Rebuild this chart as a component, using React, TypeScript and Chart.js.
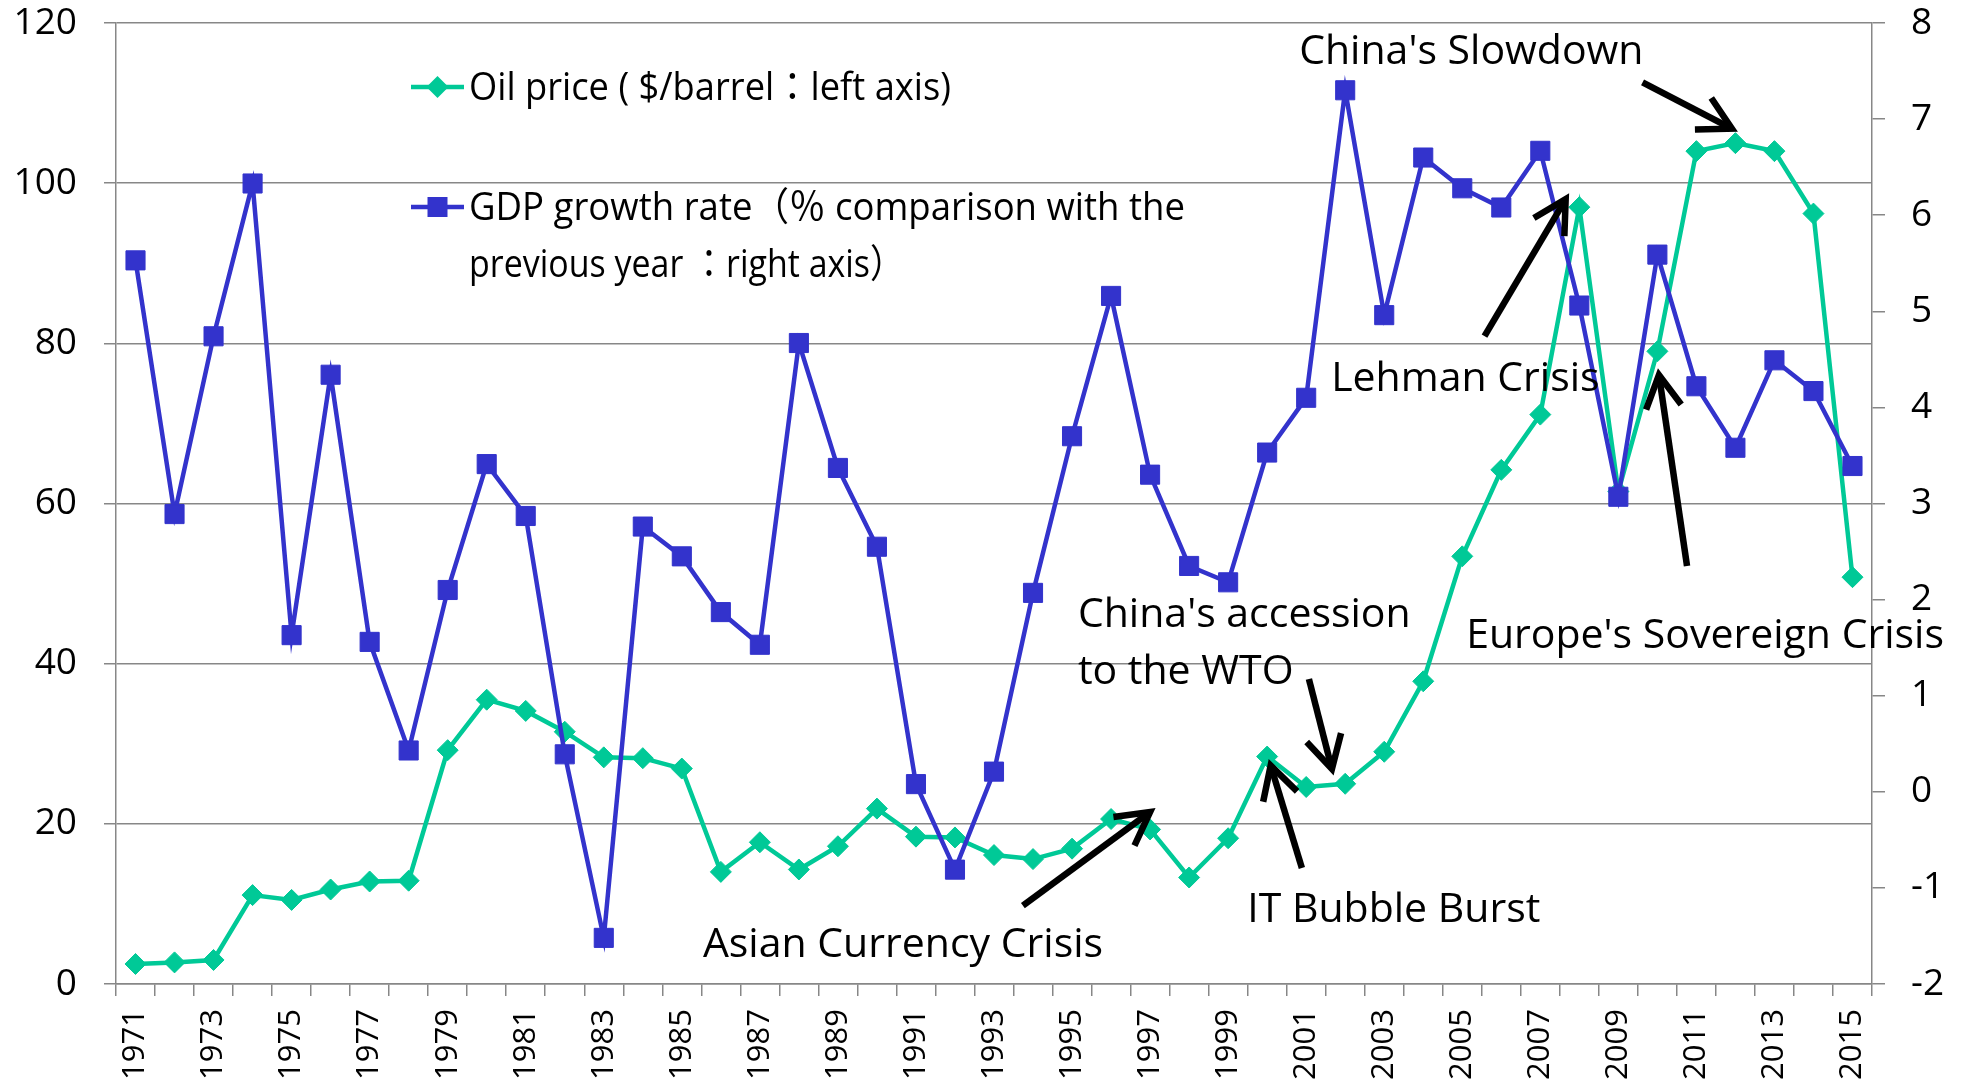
import React, { useEffect, useRef } from "react";
import { Chart, registerables } from "chart.js";

Chart.register(...registerables);

const years = [
  "1971", "1972", "1973", "1974", "1975", "1976", "1977", "1978", "1979", "1980",
  "1981", "1982", "1983", "1984", "1985", "1986", "1987", "1988", "1989", "1990",
  "1991", "1992", "1993", "1994", "1995", "1996", "1997", "1998", "1999", "2000",
  "2001", "2002", "2003", "2004", "2005", "2006", "2007", "2008", "2009", "2010",
  "2011", "2012", "2013", "2014", "2015",
];

const oilPrice = [
  2.5, 2.7, 3.0, 11.1, 10.5, 11.8, 12.8, 12.9, 29.2, 35.5,
  34.1, 31.5, 28.3, 28.2, 26.9, 14.0, 17.7, 14.3, 17.2, 21.9,
  18.4, 18.3, 16.1, 15.6, 16.9, 20.6, 19.3, 13.3, 18.2, 28.4,
  24.6, 25.0, 29.0, 37.8, 53.4, 64.2, 71.1, 97.0, 61.5, 79.0,
  104.0, 105.0, 104.0, 96.2, 50.8,
];

const gdpGrowth = [
  5.53, 2.89, 4.74, 6.33, 1.63, 4.34, 1.56, 0.43, 2.10, 3.41,
  2.87, 0.39, -1.52, 2.76, 2.45, 1.87, 1.53, 4.67, 3.37, 2.55,
  0.08, -0.81, 0.21, 2.07, 3.70, 5.16, 3.30, 2.35, 2.18, 3.53,
  4.10, 7.30, 4.96, 6.60, 6.28, 6.08, 6.67, 5.06, 3.07, 5.59,
  4.22, 3.58, 4.49, 4.17, 3.39,
];

const leftTickStep = 20;
const rightTickStep = 1;

const legendLabels = [
  ["Oil price ( $/barrel：left axis)"],
  ["GDP growth rate（％ comparison with the", "previous year ：right axis）"],
];
const legendLineWidths = [[482], [716, 435]];

// annotation texts: position in (category index, left-axis value)
const noteTexts = [
  { text: "China's Slowdown", x: 29.82, y: 114.9 },
  { text: "Lehman Crisis", x: 30.64, y: 74.05 },
  { text: "China's accession", x: 24.15, y: 44.64 },
  { text: "to the WTO", x: 24.15, y: 37.46 },
  { text: "Europe's Sovereign Crisis", x: 34.1, y: 41.96 },
  { text: "IT Bubble Burst", x: 28.49, y: 7.68 },
  { text: "Asian Currency Crisis", x: 14.54, y: 3.37 },
];

// arrows: tail -> tip in (category index, left-axis value)
const noteArrows = [
  { x1: 38.62, y1: 112.6, x2: 40.91, y2: 106.8 },
  { x1: 34.57, y1: 80.9, x2: 36.65, y2: 98.0 },
  { x1: 39.76, y1: 52.2, x2: 39.04, y2: 76.05 },
  { x1: 30.07, y1: 38.09, x2: 30.66, y2: 26.85 },
  { x1: 29.89, y1: 14.48, x2: 29.09, y2: 27.28 },
  { x1: 22.74, y1: 9.79, x2: 26.0, y2: 21.48 },
];

const GREEN = "#00C997";
const BLUE = "#3333CC";
const GRID = "#878787";
const FONT = "'Open Sans', 'Noto Sans CJK JP', sans-serif";

const overlayPlugin = {
  id: "overlay",
  afterDraw(chart: any) {
    const ctx = chart.ctx;
    const area = chart.chartArea;
    const xs = chart.scales.x;
    const ys = chart.scales.y;

    // x tick labels, rotated to read upwards
    ctx.save();
    ctx.fillStyle = "#000";
    ctx.font = `31px ${FONT}`;
    ctx.textAlign = "right";
    ctx.textBaseline = "middle";
    years.forEach((lab, i) => {
      if (i % 2 !== 0) return;
      const x = xs.getPixelForValue(i);
      ctx.save();
      ctx.translate(x, area.bottom + 25);
      ctx.rotate(-Math.PI / 2);
      ctx.fillText(lab, 0, 0);
      ctx.restore();
    });
    ctx.restore();

    // legend
    ctx.save();
    const lx1 = area.left + 295;
    const lx2 = area.left + 348;
    const mx = (lx1 + lx2) / 2;
    const tx = area.left + 353;
    const rows = [area.top + 64, area.top + 184];
    const colors = [GREEN, BLUE];
    rows.forEach((ry, k) => {
      ctx.strokeStyle = colors[k];
      ctx.lineWidth = 4.5;
      ctx.beginPath();
      ctx.moveTo(lx1, ry);
      ctx.lineTo(lx2, ry);
      ctx.stroke();
      ctx.fillStyle = colors[k];
      ctx.beginPath();
      if (k === 0) {
        const r = 11;
        ctx.moveTo(mx, ry - r);
        ctx.lineTo(mx + r, ry);
        ctx.lineTo(mx, ry + r);
        ctx.lineTo(mx - r, ry);
        ctx.closePath();
      } else {
        const h = 10;
        ctx.rect(mx - h, ry - h, 2 * h, 2 * h);
      }
      ctx.fill();
      ctx.fillStyle = "#000";
      ctx.font = `39px ${FONT}`;
      ctx.textAlign = "left";
      ctx.textBaseline = "alphabetic";
      legendLabels[k].forEach((line, j) => {
        ctx.fillText(line, tx, ry + 13 + j * 56.5, legendLineWidths[k][j]);
      });
    });
    ctx.restore();

    // annotation texts
    ctx.save();
    ctx.fillStyle = "#000";
    ctx.font = `41px ${FONT}`;
    ctx.textAlign = "left";
    ctx.textBaseline = "alphabetic";
    noteTexts.forEach((n) => {
      ctx.fillText(n.text, xs.getPixelForValue(n.x), ys.getPixelForValue(n.y));
    });
    ctx.restore();

    // arrows
    ctx.save();
    ctx.strokeStyle = "#000";
    ctx.lineWidth = 6.5;
    ctx.lineCap = "butt";
    ctx.lineJoin = "miter";
    noteArrows.forEach((a) => {
      const x1 = xs.getPixelForValue(a.x1);
      const y1 = ys.getPixelForValue(a.y1);
      const x2 = xs.getPixelForValue(a.x2);
      const y2 = ys.getPixelForValue(a.y2);
      const ang = Math.atan2(y2 - y1, x2 - x1);
      const len = 37;
      const spread = 0.5;
      ctx.beginPath();
      ctx.moveTo(x1, y1);
      ctx.lineTo(x2 - Math.cos(ang) * 4, y2 - Math.sin(ang) * 4);
      ctx.stroke();
      ctx.beginPath();
      ctx.moveTo(x2 + Math.cos(ang + Math.PI - spread) * len, y2 + Math.sin(ang + Math.PI - spread) * len);
      ctx.lineTo(x2, y2);
      ctx.lineTo(x2 + Math.cos(ang + Math.PI + spread) * len, y2 + Math.sin(ang + Math.PI + spread) * len);
      ctx.stroke();
    });
    ctx.restore();
  },
};

export default function App() {
  const ref = useRef<HTMLCanvasElement | null>(null);

  useEffect(() => {
    if (!ref.current) return;
    const chart = new Chart(ref.current, {
      type: "line",
      data: {
        labels: years,
        datasets: [
          {
            label: "GDP growth rate",
            data: gdpGrowth,
            yAxisID: "y1",
            borderColor: BLUE,
            backgroundColor: BLUE,
            borderWidth: 4.5,
            pointStyle: "rect",
            pointRadius: 13.5,
            pointBorderWidth: 1,
            pointBackgroundColor: BLUE,
            pointBorderColor: BLUE,
            tension: 0,
            order: 0,
          },
          {
            label: "Oil price",
            data: oilPrice,
            yAxisID: "y",
            borderColor: GREEN,
            backgroundColor: GREEN,
            borderWidth: 4.5,
            pointStyle: "rectRot",
            pointRadius: 10.5,
            pointBorderWidth: 1,
            pointBackgroundColor: GREEN,
            pointBorderColor: GREEN,
            tension: 0,
            order: 1,
          },
        ],
      },
      options: {
        animation: false,
        responsive: true,
        maintainAspectRatio: false,
        layout: { padding: { top: 23, left: 0, right: 0, bottom: 0 } },
        plugins: {
          legend: { display: false },
          tooltip: { enabled: false },
        },
        scales: {
          x: {
            type: "category",
            offset: true,
            afterFit: (s: any) => {
              s.height = 102;
              s.paddingLeft = 0;
              s.paddingRight = 0;
            },
            grid: {
              offset: true,
              drawOnChartArea: false,
              drawTicks: true,
              tickLength: 12,
              color: GRID,
              lineWidth: 1.5,
            },
            border: { display: true, color: GRID, width: 1.5 },
            ticks: { display: false, autoSkip: false },
          },
          y: {
            position: "left",
            min: 0,
            max: 120,
            afterFit: (s: any) => {
              s.width = 116;
              s.paddingTop = 0;
              s.paddingBottom = 0;
            },
            ticks: {
              stepSize: leftTickStep,
              color: "#000",
              padding: 27,
              font: { family: FONT, size: 37, lineHeight: 1.1 },
            },
            grid: { color: GRID, lineWidth: 1.5, tickLength: 12 },
            border: { display: true, color: GRID, width: 1.5 },
          },
          y1: {
            position: "right",
            min: -2,
            max: 8,
            afterFit: (s: any) => {
              s.width = 92;
              s.paddingTop = 0;
              s.paddingBottom = 0;
            },
            ticks: {
              stepSize: rightTickStep,
              color: "#000",
              padding: 26,
              font: { family: FONT, size: 37, lineHeight: 1.1 },
            },
            grid: { drawOnChartArea: false, color: GRID, lineWidth: 1.5, tickLength: 13 },
            border: { display: true, color: GRID, width: 1.5 },
          },
        },
      },
      plugins: [overlayPlugin],
    } as any);
    return () => chart.destroy();
  }, []);

  return (
    <div style={{ position: "absolute", left: 0, top: 0, width: 1964, height: 1086, background: "#fff" }}>
      <canvas ref={ref} />
    </div>
  );
}
